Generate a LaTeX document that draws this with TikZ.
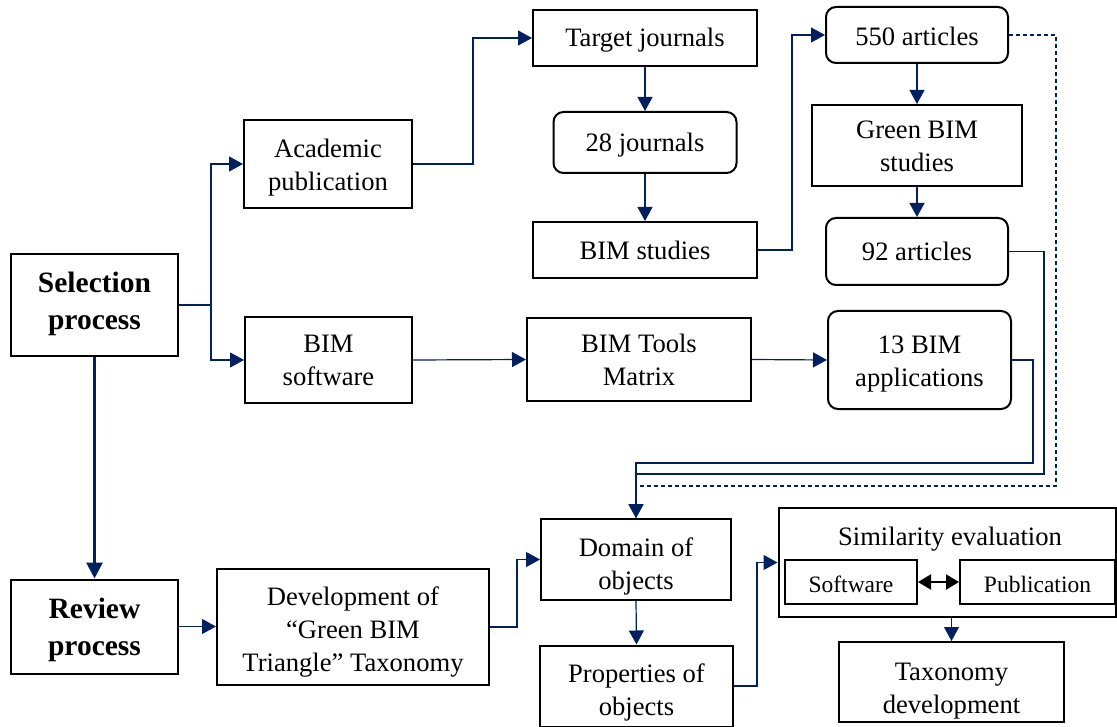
\documentclass[tikz,border=0pt]{standalone}
\usepackage{fontspec}
\setmainfont{Liberation Serif}
\usetikzlibrary{arrows.meta}
\definecolor{navy}{HTML}{002060}
\newcommand\dnb[2]{\raisebox{-#1}[\height][\depth]{\begin{tabular}{@{}c@{}}#2\end{tabular}}}
\tikzset{
  box/.style={draw=black, line width=2pt, fill=white, align=center, inner sep=0pt,
    font=\fontsize{26.6}{33}\selectfont},
  rbox/.style={box, rounded corners=10pt},
  bbox/.style={box, font=\fontsize{29.5}{37}\selectfont\bfseries},
  sbox/.style={box, font=\fontsize{23.5}{28}\selectfont},
  dn/.style={execute at begin node={\rule{0pt}{\dimexpr 18.2pt + 2\dimexpr #1\relax\relax}}},
  conn/.style={draw=navy, line width=1.2pt},
  tip/.style={-{Triangle[length=14pt,width=15pt]}},
  dconn/.style={draw=navy, line width=1.2pt, dash pattern=on 4pt off 3pt},
}
\begin{document}
\begin{tikzpicture}[x=1pt,y=-1pt]
\useasboundingbox (0,0) rectangle (1117,727);
% nodes
\node[bbox, minimum width=167pt, minimum height=102pt] (sel) at (94.5,305) {\dnb{-1pt}{Selection\\process}};
\node[box, minimum width=168pt, minimum height=88pt] (acad) at (328,164) {\dnb{3pt}{Academic\\publication}};
\node[box, minimum width=167pt, minimum height=86pt] (bimsw) at (328.5,360) {\dnb{2pt}{BIM\\software}};
\node[box, dn=2pt, minimum width=224pt, minimum height=56pt] (target) at (645,38) {Target journals};
\node[rbox, dn=3pt, minimum width=183pt, minimum height=61pt] (j28) at (645,142.5) {28 journals};
\node[box, minimum width=224pt, minimum height=56pt] (bimst) at (645,250) {BIM studies};
\node[rbox, dn=2pt, minimum width=182pt, minimum height=56pt] (a550) at (917,35) {550 articles};
\node[box, minimum width=210pt, minimum height=81pt] (green) at (917,145.5) {\dnb{3pt}{Green BIM\\studies}};
\node[rbox, minimum width=182pt, minimum height=67pt] (a92) at (917,251.5) {92 articles};
\node[box, minimum width=224pt, minimum height=83pt] (matrix) at (639,359.5) {\dnb{3pt}{BIM Tools\\Matrix}};
\node[rbox, minimum width=183pt, minimum height=98pt] (bim13) at (919.5,360) {\dnb{3pt}{13 BIM\\applications}};
\node[bbox, minimum width=167pt, minimum height=94pt] (review) at (94.5,626.5) {\dnb{3pt}{Review\\process}};
\node[box, minimum width=272pt, minimum height=116pt] (dev) at (353,627) {\dnb{5pt}{Development of\\``Green BIM\\Triangle'' Taxonomy}};
\node[box, minimum width=190pt, minimum height=81pt] (domain) at (636,559.5) {\dnb{7pt}{Domain of\\objects}};
\node[box, minimum width=193pt, minimum height=81pt] (props) at (636.5,686) {\dnb{6pt}{Properties of\\objects}};
\node[box, minimum width=337pt, minimum height=109pt] (sim) at (947,562.5) {};
\node[font=\fontsize{26.6}{33}\selectfont, inner sep=0pt] (simt) at (950,539) {Similarity evaluation};
\node[sbox, minimum width=132pt, minimum height=44pt] (sw) at (851,582) {\raisebox{-2pt}[\height][\depth]{Software}};
\node[sbox, minimum width=155pt, minimum height=44pt] (pub) at (1037.5,582) {\raisebox{-2pt}[\height][\depth]{Publication}};
\node[box, minimum width=225pt, minimum height=80pt] (tax) at (951.5,682) {\dnb{8pt}{Taxonomy\\development}};
% connectors
\coordinate (b1) at (211,305);
\draw[conn] (sel.east) -- (b1);
\draw[conn,tip] (b1) |- (acad.west);
\draw[conn,tip] (b1) |- (bimsw.west);
\draw[conn,tip] (acad.east) -- ++(60,0) |- (target.west);
\draw[conn,tip] (target.south) -- (j28.north);
\draw[conn,tip] (j28.south) -- (bimst.north);
\draw[conn,tip] (bimst.east) -- ++(34,0) |- (a550.west);
\draw[conn,tip] (a550.south) -- (green.north);
\draw[conn,tip] (green.south) -- (a92.north);
\draw[conn,tip] (bimsw.east) -- (matrix.west);
\draw[conn,tip] (matrix.east) -- (bim13.west);
\coordinate (c92) at (1044,474);
\coordinate (c13) at (1033,463);
\coordinate (c550) at (1056,486);
\draw[dconn] (a550.east) -| (c550) -| (domain.north);
\draw[conn,tip] (a92.east) -| (c92) -| (domain.north);
\draw[conn,tip] (bim13.east) -| (c13) -| (domain.north);
\draw[draw=navy, line width=3pt, -{Triangle[length=16pt,width=16pt]}] (sel.south) -- (review.north);
\draw[conn,tip] (review.east) -- (review.east -| dev.west);
\draw[conn,tip] (dev.east) -- ++(27,0) |- (domain.west);
\draw[conn,tip] (domain.south) -- (props.north);
\draw[conn,tip] (props.east) -- ++(23,0) |- (sim.west);
\draw[conn,tip] (sim.south -| tax.north) -- (tax.north);
\draw[black, line width=2.2pt, {Triangle[length=13pt,width=15pt]}-{Triangle[length=13pt,width=15pt]}] (sw.east) -- (pub.west);
\end{tikzpicture}
\end{document}
